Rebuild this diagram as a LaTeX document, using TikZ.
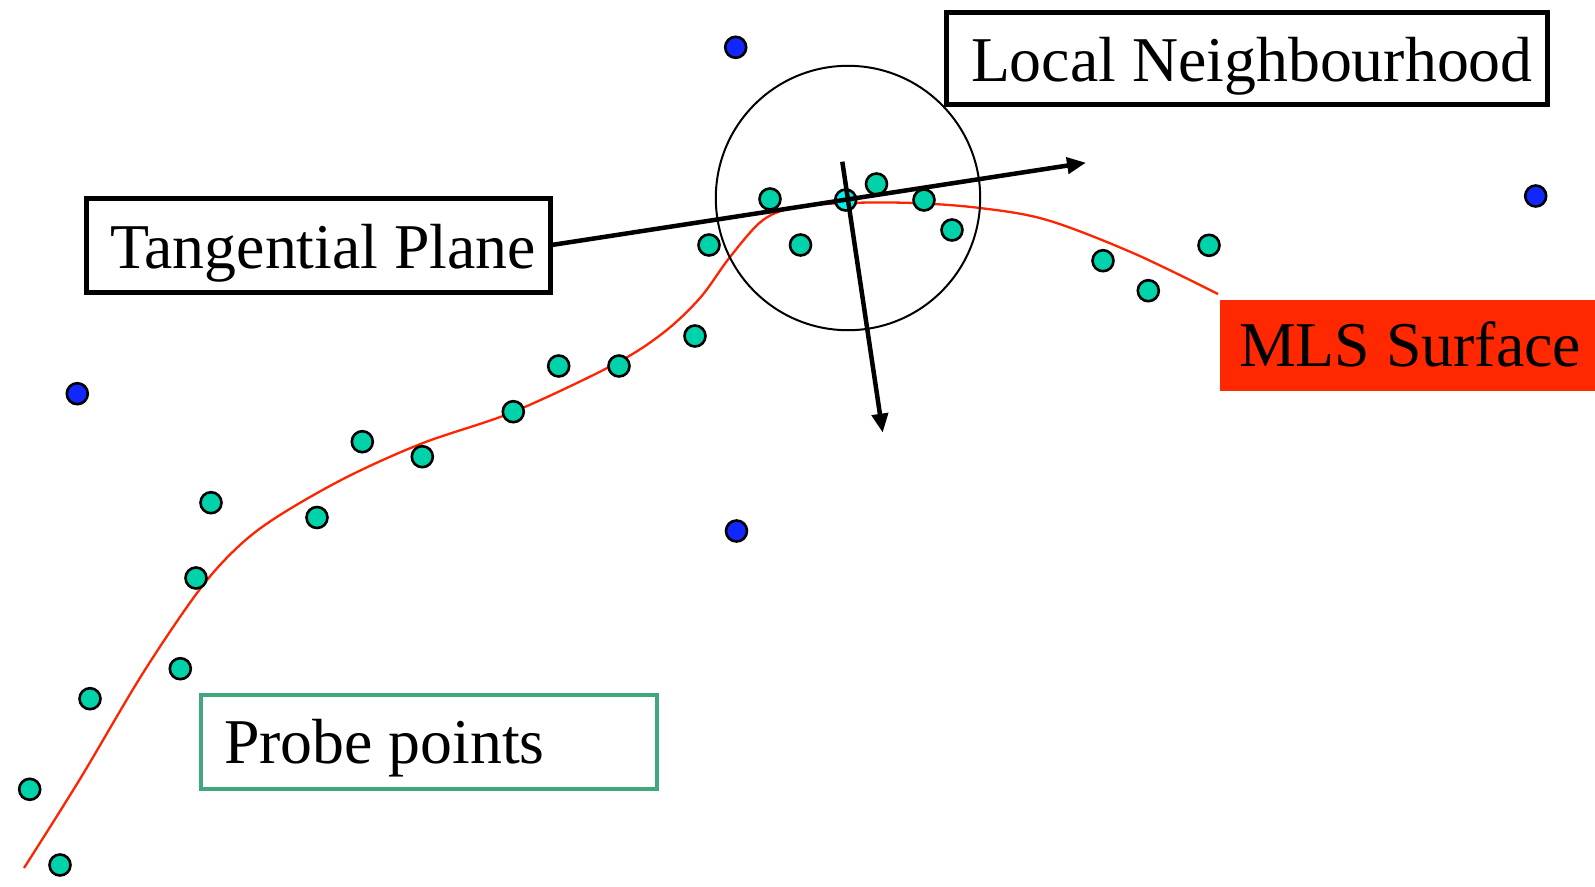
\documentclass[tikz,border=0pt]{standalone}
\usepackage{fontspec}
\setmainfont{Liberation Serif}
\usetikzlibrary{arrows.meta}
\definecolor{probeteal}{RGB}{0,210,170}
\definecolor{centercyan}{RGB}{0,240,235}
\definecolor{farblue}{RGB}{16,40,255}
\definecolor{surfred}{RGB}{255,36,0}
\definecolor{mlsfill}{RGB}{255,40,0}
\definecolor{probegreen}{RGB}{64,168,124}
\begin{document}
\begin{tikzpicture}[x=1pt,y=-1pt,
  dot/.style={circle,draw=black,line width=2.6pt,minimum size=21pt,inner sep=0pt},
  pdot/.style={dot,fill=probeteal},
  bdot/.style={dot,fill=farblue},
  cdot/.style={dot,fill=centercyan},
  lbl/.style={anchor=north west,inner sep=0pt,outer sep=0pt,text depth=0pt,font=\fontsize{63.8}{70}\selectfont},
  frame/.style={lbl,draw=black,line width=5pt},
  ptr/.style={line width=4.5pt,-{Triangle[length=19pt,width=16pt]}}
]
\useasboundingbox (0,0) rectangle (1595,886);

% MLS surface curve
\draw[surfred,line width=2.3pt] plot[smooth,tension=0.55] coordinates {
 (24,868) (80,779) (143,673) (200,589) (240,545) (280,515) (347,477)
 (423,443) (513,412) (613,365) (663,333) (700,298) (730,257)
 (763,220) (797,207) (847,203) (913,203) (980,208) (1047,220) (1133,253) (1218,294)};

% probe points
\node[pdot] (p1) at (770,199) {};
\node[pdot] (p2) at (876.5,184) {};
\node[pdot] (p3) at (924,200) {};
\node[pdot] (p4) at (952,230) {};
\node[pdot] (p5) at (800.5,245) {};
\node[pdot] (p6) at (709,245) {};
\node[pdot] (p7) at (695,336) {};
\node[pdot] (p8) at (619,366) {};
\node[pdot] (p9) at (558.7,366) {};
\node[pdot] (p10) at (513.3,411.7) {};
\node[pdot] (p11) at (422.3,456.7) {};
\node[pdot] (p12) at (362.3,441.7) {};
\node[pdot] (p13) at (317,517.5) {};
\node[pdot] (p14) at (211,502.7) {};
\node[pdot] (p15) at (196,578) {};
\node[pdot] (p16) at (180.3,668.7) {};
\node[pdot] (p17) at (90,698.7) {};
\node[pdot] (p18) at (29.7,789.3) {};
\node[pdot] (p19) at (60,865) {};
\node[pdot] (p20) at (1103,260.7) {};
\node[pdot] (p21) at (1148.3,290.7) {};
\node[pdot] (p22) at (1209,245.3) {};
\node[cdot] (pc) at (845.7,200) {};

% far points
\node[bdot] (b1) at (735.7,47.3) {};
\node[bdot] (b2) at (1535.7,196) {};
\node[bdot] (b3) at (77.3,393.7) {};
\node[bdot] (b4) at (736.5,531) {};

% local neighbourhood circle
\node[circle,draw=black,line width=2pt,minimum size=264.4pt,inner sep=0pt] (nbh) at (848,198) {};

% labels
\node[frame,minimum width=463.5pt,minimum height=93.5pt,text height=46pt] (tp) at (86.5,198.5)
  {\makebox[416.5pt][l]{Tangential Plane}};
\node[frame,minimum width=601pt,minimum height=92pt,text height=46pt] (ln) at (946,12)
  {\makebox[551pt][l]{Local Neighbourhood}};
\node[lbl,draw=probegreen,line width=4.5pt,minimum width=456pt,minimum height=94pt,text height=42pt] (pp) at (201,695)
  {\makebox[410pt][l]{Probe points}};
\node[lbl,fill=mlsfill,minimum width=375pt,minimum height=90.7pt,text height=43pt] (mls) at (1220,300)
  {\makebox[337pt][l]{MLS Surface}};

% tangent and normal arrows
\coordinate (tt) at (1086,162.7);
\coordinate (ns) at (842.3,161.7);
\coordinate (nt) at (882.7,432.7);
\draw[ptr] (tp.east) -- (tt);
\draw[ptr] (ns) -- (nt);
\end{tikzpicture}
\end{document}
